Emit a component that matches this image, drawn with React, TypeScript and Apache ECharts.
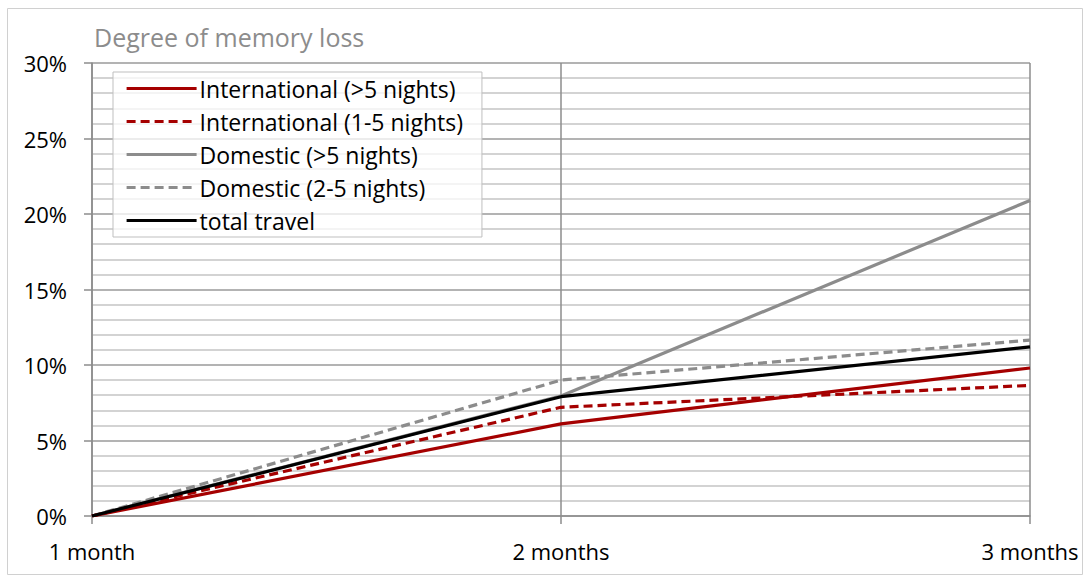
import React, { useEffect, useRef } from "react";
import * as echarts from "echarts";

const months = ["1 month", "2 months", "3 months"];
const internationalLong = [0, 6.1, 9.8];
const internationalShort = [0, 7.2, 8.65];
const domesticLong = [0, 7.95, 20.9];
const domesticShort = [0, 9.0, 11.65];
const totalTravel = [0, 7.9, 11.2];

const RED = "#a50000";
const GREY = "#8c8c8c";
const FONT = "'Open Sans', 'Noto Sans', sans-serif";

export default function App() {
  const ref = useRef<HTMLDivElement>(null);

  useEffect(() => {
    if (!ref.current) return;
    const chart = echarts.init(ref.current, null, { renderer: "svg" });
    const line = (name: string, data: number[], color: string, dashed: boolean) => ({
      name,
      type: "line",
      data,
      symbol: "none",
      z: 3,
      lineStyle: { color, width: 3.2, type: dashed ? [9, 5] : "solid", cap: "butt" },
      itemStyle: { color },
    });
    chart.setOption({
      animation: false,
      textStyle: { fontFamily: FONT },
      title: {
        text: "Degree of memory loss",
        left: 89,
        top: 19,
        textStyle: { color: GREY, fontSize: 25, fontWeight: "normal", fontFamily: FONT },
      },
      graphic: [
        {
          type: "rect",
          shape: { x: 7.5, y: 8.5, width: 1075, height: 566 },
          style: { fill: "none", stroke: "#d0d0d0", lineWidth: 1 },
          silent: true,
        },
      ],
      legend: {
        orient: "vertical",
        left: 113,
        top: 72,
        itemWidth: 70,
        itemHeight: 14,
        itemGap: 10,
        padding: [5, 19, 5, 12],
        backgroundColor: "rgba(255,255,255,0.75)",
        borderColor: "#bfbfbf",
        borderWidth: 1,
        borderRadius: 0,
        itemStyle: { opacity: 0 },
        lineStyle: { width: 3.2 },
        textStyle: { fontSize: 23, color: "#000", fontFamily: FONT, padding: [0, 0, 0, -2] },
        data: [
          "International (>5 nights)",
          "International (1-5 nights)",
          "Domestic (>5 nights)",
          "Domestic (2-5 nights)",
          "total travel",
        ],
      },
      grid: { left: 92, top: 63, width: 938, height: 453, containLabel: false },
      xAxis: {
        type: "category",
        data: months,
        boundaryGap: false,
        axisLine: { show: true, lineStyle: { color: "#8c8c8c", width: 1.5 } },
        axisTick: { show: true, length: 8, lineStyle: { color: "#8c8c8c", width: 1.5 } },
        axisLabel: { color: "#000", fontSize: 22, margin: 24, fontFamily: FONT },
        splitLine: { show: true, lineStyle: { color: "#8c8c8c", width: 1.5 } },
      },
      yAxis: {
        type: "value",
        min: 0,
        max: 30,
        interval: 5,
        axisLine: { show: true, lineStyle: { color: "#8c8c8c", width: 1.5 } },
        axisTick: { show: true, length: 8, lineStyle: { color: "#8c8c8c", width: 1.5 } },
        axisLabel: { color: "#000", fontSize: 22, margin: 25, formatter: "{value}%", fontFamily: FONT },
        splitLine: { show: true, lineStyle: { color: "#9a9a9a", width: 1.5 } },
        minorTick: { show: false, splitNumber: 5 },
        minorSplitLine: { show: true, lineStyle: { color: "#c4c4c4", width: 1.5 } },
      },
      series: [
        line("Domestic (>5 nights)", domesticLong, GREY, false),
        line("Domestic (2-5 nights)", domesticShort, GREY, true),
        line("International (1-5 nights)", internationalShort, RED, true),
        line("International (>5 nights)", internationalLong, RED, false),
        line("total travel", totalTravel, "#000", false),
      ],
    });
    return () => chart.dispose();
  }, []);

  return (
    <div
      ref={ref}
      style={{ position: "fixed", left: 0, top: 0, width: 1086, height: 579, background: "#fff" }}
    />
  );
}
